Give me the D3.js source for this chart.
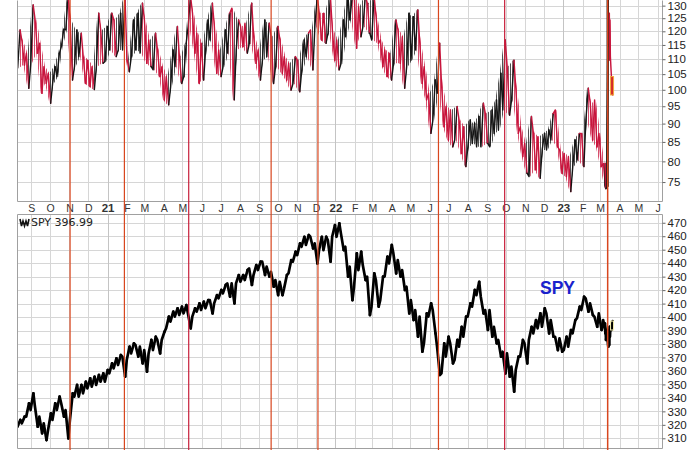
<!DOCTYPE html>
<html><head><meta charset="utf-8">
<script src="https://cdn.jsdelivr.net/npm/d3@7"></script>
<style>html,body{margin:0;padding:0;background:#fff;} svg{display:block;}</style>
</head><body>
<svg id="chart" width="698" height="450"></svg>
<script>
// ---------- data (weekly bars, Wednesdays from weekStart) ----------
const weekStart = "2020-08-12";
const topHigh = [120.5,116.2,112.1,130.3,124.3,115.6,107.5,105.3,107.5,112.1,
 120.8,134,124.3,120.5,119.3,110.9,109.7,107.5,127.0,120.5,
 121.8,127.0,124.3,127.0,134,110.3,124.3,127.0,131.0,124.3,
 116.8,119.3,113.2,107.5,104.2,113.2,121.8,110.9,115.6,134,
 127.0,119.3,115.6,124.3,131.0,121.8,113.2,120.5,127.0,129.0,
 124.3,121.8,123.1,131.0,118.0,113.2,124.3,123.1,118.0,121.8,
 116.8,110.9,108.6,110.9,109.7,116.8,119.3,120.5,134,127.0,
 127.0,134,120.5,116.8,124.3,134,134,134,129.6,134,
 131.0,134,125.6,116.8,113.2,112.1,124.3,120.5,118.0,127.0,
 125.6,128.3,115.6,107.5,98.9,103.1,115.6,101.0,94.9,93.9,
 94.9,91.0,89.1,91.0,90.1,92.0,95.9,92.9,93.9,96.9,
 105.3,116.8,107.5,109.7,99.9,89.1,84.6,92.0,87.3,86.4,
 87.3,88.2,92.9,93.9,82.9,82.0,81.2,85.5,87.3,87.3,
 100.5,95.9,96.9,87.3,79.5];
const topLow = [107.0,108.0,100.5,108.6,112.1,98.9,102.0,95.9,102.0,104.2,
 114.4,120.5,103.1,107.5,110.9,102.0,101.0,100.1,107.5,108.6,
 109.2,113.2,110.9,113.2,113.2,105.8,110.9,113.2,112.1,108.6,
 107.5,106.4,104.2,96.9,95.4,101.0,107.5,102.0,104.2,121.8,
 112.1,102.0,103.1,113.2,116.8,105.3,104.2,107.5,112.1,96.9,
 113.2,114.4,112.1,115.6,108.6,103.1,109.7,110.9,102.0,107.5,
 105.3,103.1,99.9,102.0,99.4,106.4,110.9,106.4,121.8,116.8,
 115.6,119.3,109.7,106.4,108.6,118.0,124.3,113.8,118.0,121.8,
 119.3,116.8,115.6,107.5,104.2,103.1,108.6,108.6,100.5,107.5,
 109.7,113.2,102.0,96.9,87.3,91.0,98.9,89.1,85.5,83.7,
 85.5,82.0,78.7,83.7,84.6,83.7,83.7,84.6,83.7,87.3,
 88.2,93.9,92.4,96.9,87.3,81.2,77.1,76.3,77.9,75.9,
 82.9,82.9,85.5,83.7,77.1,76.3,72.8,78.7,80.3,78.7,
 91.0,85.5,83.7,78.7,73.5];
const spyHigh = [323.6,326.1,336.0,343.4,333.5,326.1,321.1,328.5,336.0,340.9,
 336.0,331.0,343.4,349.6,349.6,352.0,354.5,355.7,357.0,358.2,
 360.7,365.6,369.3,371.8,370.6,378.0,380.5,379.3,378.0,375.5,
 383.0,385.4,383.0,389.1,400.3,404.0,406.5,407.7,408.9,402.7,
 406.5,410.2,411.4,412.6,412.6,416.3,420.1,423.8,425.0,425.0,
 431.2,431.2,434.9,436.1,438.6,441.1,441.1,437.4,433.6,427.5,
 426.2,431.2,442.3,448.5,454.7,459.6,460.9,459.6,454.7,459.6,
 459.6,457.2,468.3,469.5,462.1,452.2,437.4,447.3,448.5,438.6,
 430.0,432.4,427.5,430.0,444.8,453.5,447.3,442.3,434.9,422.5,
 412.6,405.2,400.3,402.7,410.2,405.2,378.0,380.5,385.4,380.5,
 383.0,392.8,400.3,410.2,420.1,426.2,415.1,405.2,405.2,392.8,
 383.0,374.3,373.0,363.2,370.6,383.0,380.5,392.8,397.8,402.7,
 406.5,402.7,397.8,385.4,384.2,385.4,390.4,397.8,407.7,415.1,
 413.9,410.2,400.3,402.7,397.8];
const spyLow = [318.6,321.1,326.1,331.0,318.6,313.7,308.7,316.2,323.6,331.0,
 326.1,310.0,323.6,340.9,340.9,343.4,347.1,348.3,349.6,352.0,
 352.0,358.2,361.9,364.4,355.7,368.1,373.0,370.6,365.6,359.4,
 373.0,375.5,373.0,383.0,391.6,396.6,400.3,401.5,402.7,391.6,
 400.3,404.0,405.2,406.5,402.7,410.2,413.9,417.6,415.1,410.2,
 425.0,426.2,427.5,423.8,431.2,434.9,431.2,430.0,422.5,416.3,
 416.3,421.3,432.4,441.1,446.0,452.2,453.5,451.0,439.8,449.7,
 449.7,441.1,459.6,459.6,449.7,430.0,412.6,422.5,434.9,427.5,
 401.5,407.7,407.7,412.6,430.0,439.8,432.4,430.0,420.1,402.7,
 397.8,385.4,374.3,380.5,400.3,387.9,357.0,358.2,370.6,365.6,
 368.1,378.0,385.4,400.3,407.7,416.3,402.7,390.4,385.4,380.5,
 370.6,358.2,355.7,344.6,360.7,370.6,365.6,383.0,387.9,391.6,
 392.8,387.9,385.4,375.5,374.3,375.5,378.0,387.9,399.0,405.2,
 404.0,401.5,392.8,390.4,387.9];
// last daily bars
const recentDates = ["2023-03-09","2023-03-10","2023-03-13","2023-03-14","2023-03-15","2023-03-16","2023-03-17","2023-03-20"];
const topHighRecent = [79.5,78.7,134,127.0,125.6,127.0,124.3,104.2];
const topLowRecent  = [74.3,73.5,73.9,114.4,115.6,109.7,110.9,98.4];
const spyHighRecent = [395.3,390.4,387.9,390.4,389.1,392.8,392.8,397.0];
const spyLowRecent  = [387.9,383.0,378.0,383.0,379.2,385.4,385.4,390.4];
// marked dates (vertical red lines)
const eventDates = ["2020-11-02","2021-01-28","2021-05-11","2021-09-20","2021-12-04","2022-06-15","2022-09-29","2023-03-13"];
const topTicks = [75,80,85,90,95,100,105,110,115,120,125,130];
const spyTicks = [310,320,330,340,350,360,370,380,390,400,410,420,430,440,450,460,470];
const spyTitle = "SPY 396.99";
const spyTag = "SPY";

// ---------- build ----------
const parse = d3.utcParse("%Y-%m-%d");
const start = parse(weekStart);
const n = Math.min(topHigh.length, topLow.length, spyHigh.length, spyLow.length);
const rows = [];
for (let i = 0; i < n; i++) rows.push({date: d3.utcDay.offset(start, 7 * i), tH: topHigh[i], tL: topLow[i], sH: spyHigh[i], sL: spyLow[i]});
recentDates.forEach((d, j) => rows.push({date: parse(d), tH: topHighRecent[j], tL: topLowRecent[j], sH: spyHighRecent[j], sL: spyLowRecent[j]}));

const L = 17, R = 662;
const top0 = 0, top1 = 201, bot0 = 214, bot1 = 448;
const x = d3.scaleUtc().domain([parse("2020-08-09"), parse("2023-06-08")]).range([L, R]);
const yTop = d3.scaleLog().domain([70.7, 132.3]).range([top1, top0]);
const ySpy = d3.scaleLinear().domain([302.8, 476.5]).range([bot1, bot0]);

const svg = d3.select("#chart");
const defs = svg.append("defs");
defs.append("clipPath").attr("id", "cTop").append("rect").attr("x", L).attr("y", top0).attr("width", R - L).attr("height", top1 - top0);
defs.append("clipPath").attr("id", "cBot").append("rect").attr("x", L).attr("y", bot0).attr("width", R - L).attr("height", bot1 - bot0);
function stripes(id, col) {
  const p = defs.append("pattern").attr("id", id).attr("patternUnits", "userSpaceOnUse")
    .attr("width", 2).attr("height", 8);
  p.append("rect").attr("x", 0).attr("y", 0).attr("width", 1).attr("height", 8).attr("fill", col);
}
stripes("pUp", "#151515");
stripes("pDn", "#c8143c");

const months = d3.utcMonth.range(d3.utcMonth.ceil(x.domain()[0]), x.domain()[1]);
const gridCol = "#d6d6d6";

function panelGrid(y0, y1, scale, ticks) {
  const g = svg.append("g");
  g.selectAll("line.h").data(ticks).join("line")
    .attr("x1", L).attr("x2", R).attr("y1", d => Math.round(scale(d)) + 0.5).attr("y2", d => Math.round(scale(d)) + 0.5)
    .attr("stroke", gridCol).attr("stroke-width", 1);
  g.selectAll("line.v").data(months).join("line")
    .attr("x1", d => Math.round(x(d)) + 0.5).attr("x2", d => Math.round(x(d)) + 0.5).attr("y1", y0).attr("y2", y1)
    .attr("stroke", d => d.getUTCMonth() === 0 ? "#c4c4c4" : gridCol).attr("stroke-width", 1);
}
panelGrid(top0, top1, yTop, topTicks);
panelGrid(bot0, bot1, ySpy, spyTicks);

// zigzag path through each bar: low->high in rising weeks, high->low in falling ones
function zigzag(g, scale, hiKey, loKey, half, width, upCol, dnCol) {
  let prev = null, prevMid = null;
  rows.forEach((r, i) => {
    const xi = x(r.date);
    const gap = i > 0 ? xi - x(rows[i - 1].date) : 5;
    const h = Math.min(half, gap / 3);
    const mid = (r[hiKey] + r[loKey]) / 2;
    const up = prevMid === null ? true : mid >= prevMid;
    const p1 = [xi - h, scale(up ? r[loKey] : r[hiKey])];
    const p2 = [xi + h, scale(up ? r[hiKey] : r[loKey])];
    const pts = prev ? [prev, p1, p2] : [p1, p2];
    g.append("path").attr("d", "M" + pts.join("L")).attr("fill", "none")
      .attr("stroke", up ? upCol : dnCol).attr("stroke-width", width)
      .attr("stroke-linejoin", "round").attr("stroke-linecap", "round");
    prev = p2; prevMid = mid;
  });
}

// top panel: faint striped high-low ribbon + spiky bar path
const gTop = svg.append("g").attr("clip-path", "url(#cTop)");
for (let i = 1; i < rows.length; i++) {
  const a = rows[i - 1], b = rows[i];
  const up = (b.tH + b.tL) >= (a.tH + a.tL);
  const xa = x(a.date), xb = x(b.date);
  const pts = [[xa, yTop(a.tH)], [xb, yTop(b.tH)], [xb, yTop(b.tL)], [xa, yTop(a.tL)]];
  gTop.append("path").attr("d", "M" + pts.join("L") + "Z")
    .attr("fill", up ? "url(#pUp)" : "url(#pDn)").attr("opacity", 0.75);
}
zigzag(gTop, yTop, "tH", "tL", 1.2, 1.4, "#151515", "#c8143c");
const spike = rows.find(r => +r.date === +parse("2023-03-13"));
gTop.append("line").attr("x1", x(spike.date)).attr("x2", x(spike.date))
  .attr("y1", yTop(spike.tH)).attr("y2", yTop(spike.tL)).attr("stroke", "#111").attr("stroke-width", 2.2);
const last = rows[rows.length - 1];
gTop.append("rect").attr("x", x(last.date) - 1.5).attr("y", yTop(last.tH))
  .attr("width", 3).attr("height", yTop(last.tL) - yTop(last.tH))
  .attr("fill", "#d42a2a").attr("stroke", "#f2a93b").attr("stroke-width", 1);

// bottom panel: SPY bars as a thick jagged path
const gBot = svg.append("g").attr("clip-path", "url(#cBot)");
zigzag(gBot, ySpy, "sH", "sL", 1.4, 2.7, "#000", "#000");
gBot.append("rect").attr("x", x(last.date) - 1.5).attr("y", ySpy(last.sH))
  .attr("width", 3).attr("height", ySpy(last.sL) - ySpy(last.sH))
  .attr("fill", "none").attr("stroke", "#f4eeb0").attr("stroke-width", 1);

// borders
const bc = "#a0a0a0";
[[L, top0, L, top1], [R, top0, R, top1], [L, top1, R, top1],
 [L, bot0, R, bot0], [L, bot0, L, bot1], [R, bot0, R, bot1], [L, bot1, R, bot1]].forEach(s => {
  svg.append("line").attr("x1", s[0] + 0.5).attr("y1", s[1] + 0.5).attr("x2", s[2] + 0.5).attr("y2", s[3] + 0.5)
    .attr("stroke", bc).attr("stroke-width", 1);
});

// month labels
svg.append("g").selectAll("text").data(months).join("text")
  .attr("x", d => x(d) + 0.5).attr("y", 212)
  .attr("text-anchor", "middle")
  .attr("font-family", "Arial, 'Liberation Sans', sans-serif")
  .attr("font-size", d => d.getUTCMonth() === 0 ? 11.5 : 10.5)
  .attr("font-weight", d => d.getUTCMonth() === 0 ? "bold" : "normal")
  .attr("fill", "#333")
  .text(d => d.getUTCMonth() === 0 ? d3.utcFormat("%y")(d) : d3.utcFormat("%b")(d)[0]);

// right axes
function rightAxis(scale, ticks) {
  const g = svg.append("g").attr("transform", `translate(${R + 0.5},0)`)
    .call(d3.axisRight(scale).tickValues(ticks).tickFormat(d3.format("d")).tickSize(3).tickPadding(2));
  g.select(".domain").remove();
  g.selectAll(".tick line").attr("stroke", "#666");
  g.selectAll("text").attr("font-family", "Arial, 'Liberation Sans', sans-serif").attr("font-size", 11.5).attr("fill", "#222");
}
rightAxis(yTop, topTicks);
rightAxis(ySpy, spyTicks);

// event lines
svg.append("g").selectAll("line").data(eventDates).join("line")
  .attr("x1", d => x(parse(d))).attr("x2", d => x(parse(d)))
  .attr("y1", 0).attr("y2", 450)
  .attr("stroke", (d, i) => (i === 2 || i === 6) ? "#c8203c" : "#d8461e")
  .attr("stroke-width", (d, i) => i === eventDates.length - 1 ? 1.5 : 1.2);

// titles
const tg = svg.append("g");
tg.append("path").attr("d", "M20,219 L21.5,226 L23,221 L24.5,226 L26,221 L27.5,226 L29,219")
  .attr("fill", "none").attr("stroke", "#111").attr("stroke-width", 1.6);
tg.append("text").attr("x", 31).attr("y", 226)
  .attr("font-family", "'DejaVu Sans', Verdana, sans-serif").attr("font-size", 11).attr("fill", "#222")
  .text(spyTitle);
tg.append("text").attr("x", 540).attr("y", 293.5)
  .attr("font-family", "Arial, 'Liberation Sans', sans-serif").attr("font-size", 17.5).attr("font-weight", "bold")
  .attr("fill", "#1a22cc").text(spyTag);
</script>
</body></html>
